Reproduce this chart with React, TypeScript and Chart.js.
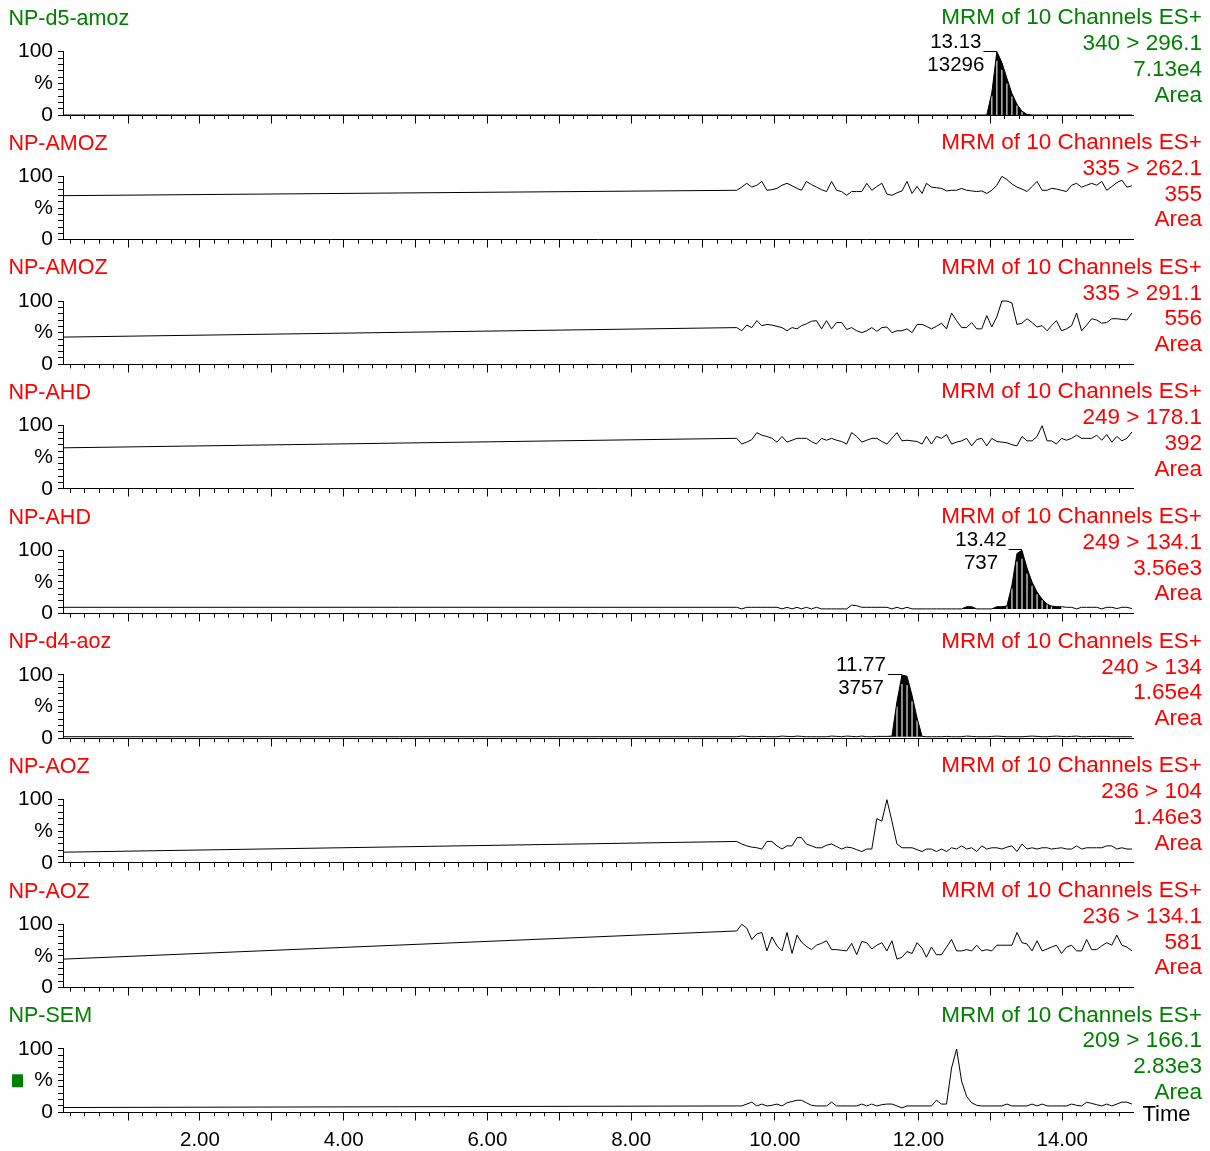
import React, { useEffect, useRef } from 'react';
import { Chart, registerables } from 'chart.js';

Chart.register(...registerables);

const FONT = '"Liberation Sans", Arial, Helvetica, sans-serif';
Chart.defaults.font.family = FONT;
Chart.defaults.color = '#000';

// ---------- axes ----------
const X_MIN = 0.094;
const X_MAX = 14.985;
const X_LABEL_VALUES = [2, 4, 6, 8, 10, 12, 14];
const X_LABELS = ['2.00', '4.00', '6.00', '8.00', '10.00', '12.00', '14.00'];
const X_MAJOR_TICKS = [1, 2, 3, 4, 5, 6, 7, 8, 9, 10, 11, 12, 13, 14];
const X_MINOR_TICKS = Array.from({ length: 74 }, (_, i) => +(0.2 * (i + 1)).toFixed(1));
const Y_TICK_VALUES = [0, 10, 20, 30, 40, 50, 60, 70, 80, 90, 100];
const Y_LABEL_VALUES = [0, 50, 100];
const Y_LABELS = ['0', '%', '100'];

// ---------- panel texts ----------
const TITLES = ['NP-d5-amoz', 'NP-AMOZ', 'NP-AMOZ', 'NP-AHD', 'NP-AHD', 'NP-d4-aoz', 'NP-AOZ', 'NP-AOZ', 'NP-SEM'];
const GREEN = '#008000';
const RED = '#ff0000';
const TITLE_COLORS = [GREEN, RED, RED, RED, RED, RED, RED, RED, GREEN];
const SCAN_LABEL = 'MRM of 10 Channels ES+';
const TRANSITIONS = ['340 > 296.1', '335 > 262.1', '335 > 291.1', '249 > 178.1', '249 > 134.1', '240 > 134', '236 > 104', '236 > 134.1', '209 > 166.1'];
const INTENSITIES = ['7.13e4', '355', '556', '392', '3.56e3', '1.65e4', '1.46e3', '581', '2.83e3'];
const INTENSITY_MODE = 'Area';
const TIME_LABEL = 'Time';

// ---------- data (retention time, min) ----------
const TIMES = [0.094,
  9.47, 9.54, 9.61, 9.68, 9.75, 9.82, 9.89, 9.96, 10.03, 10.10,
  10.17, 10.24, 10.31, 10.37, 10.44, 10.51, 10.58, 10.65, 10.72, 10.79,
  10.86, 10.93, 11.00, 11.07, 11.14, 11.21, 11.28, 11.35, 11.42, 11.49,
  11.56, 11.63, 11.70, 11.77, 11.84, 11.91, 11.98, 12.05, 12.11, 12.18,
  12.25, 12.32, 12.39, 12.46, 12.53, 12.60, 12.67, 12.74, 12.81, 12.88,
  12.95, 13.02, 13.09, 13.16, 13.23, 13.30, 13.37, 13.44, 13.51, 13.58,
  13.65, 13.72, 13.79, 13.85, 13.92, 13.99, 14.06, 14.13, 14.20, 14.27,
  14.34, 14.41, 14.48, 14.55, 14.62, 14.69, 14.76, 14.83, 14.90, 14.97];

const S1 = [0,
  0, 0, 0, 0, 0, 0, 0, 0, 0, 0,
  0, 0, 0, 0, 0, 0, 0, 0, 0, 0,
  0, 0, 0, 0, 0, 0, 0, 0, 0, 0,
  0, 0, 0, 0, 0, 0, 0, 0, 0, 0,
  0, 0, 0, 0, 0, 0, 0, 0, 0, 0,
  0, 35, 100, 83, 58, 34, 17, 6, 1, 0,
  0, 0, 0, 0, 0, 0, 0, 0, 0, 0,
  0, 0, 0, 0, 0, 0, 0, 0, 0, 0];

const S2 = [69.5,
  78, 83, 89, 83, 86, 92, 78, 79, 81, 86,
  89, 85, 81, 78, 92, 87, 83, 79, 76, 92,
  78, 76, 70, 76, 76, 76, 89, 78, 84, 89,
  72, 70, 74, 77, 92, 73, 84, 73, 89, 83,
  82, 81, 77, 78, 78, 81, 78, 77, 76, 77,
  73, 78, 86, 100, 95, 88, 83, 80, 76, 84,
  92, 78, 78, 81, 80, 78, 76, 86, 89, 83,
  86, 89, 86, 92, 78, 84, 90, 94, 83, 85];

const S3 = [43,
  58, 53, 62, 58, 69, 61, 63, 62, 60, 58,
  53, 58, 56, 61, 64, 68, 69, 56, 69, 56,
  66, 66, 55, 58, 53, 50, 53, 58, 52, 58,
  59, 50, 53, 53, 56, 50, 63, 63, 60, 56,
  60, 65, 56, 81, 69, 58, 58, 66, 56, 56,
  77, 59, 75, 100, 100, 97, 63, 65, 72, 66,
  59, 61, 53, 61, 69, 53, 56, 61, 81, 53,
  62, 72, 70, 65, 66, 72, 72, 71, 70, 81];

const S4 = [65,
  80, 71, 74, 78, 89, 85, 83, 80, 74, 83,
  74, 77, 80, 80, 80, 75, 71, 80, 77, 80,
  77, 75, 71, 89, 83, 74, 77, 80, 80, 75,
  71, 80, 89, 76, 77, 76, 75, 71, 83, 71,
  83, 80, 86, 71, 74, 76, 80, 68, 78, 80,
  68, 80, 75, 74, 73, 70, 68, 83, 76, 76,
  83, 100, 76, 76, 71, 80, 77, 80, 85, 80,
  80, 80, 85, 77, 86, 74, 83, 76, 80, 90];

const S5 = [10,
  10, 7.5, 10, 10, 10, 10, 10, 10, 10, 7.5,
  10, 7.5, 10, 7.5, 10, 7.5, 10, 7.5, 7.5, 7.5,
  7.5, 7.5, 7.5, 13.5, 12.5, 10, 10, 10, 10, 10,
  10, 7.5, 10, 7.5, 10, 7.5, 7.5, 7.5, 7.5, 7.5,
  7.5, 7.5, 7.5, 7.5, 7.5, 7.5, 11, 11, 7.5, 7.5,
  7.5, 7.5, 11, 11, 12, 45, 95, 100, 72, 50,
  34, 23, 15, 12, 11, 11, 10, 10, 7.5, 10,
  10, 10, 10, 7.5, 10, 10, 8, 10, 10, 8];

const S6 = [2.5,
  2.5, 3.5, 3, 2.5, 2.5, 3, 2.5, 2.5, 2.5, 3.5,
  3, 2.5, 3.5, 3, 2.5, 2.5, 2.5, 2.5, 2.5, 3.5,
  3, 2.5, 3.5, 3, 2.5, 3.5, 2.5, 2.5, 3, 3,
  3, 3.5, 58, 100, 98, 68, 32, 3, 2.5, 2.5,
  2.5, 2.5, 3, 2.5, 2.5, 2.5, 3.5, 3, 2.5, 2.5,
  2.5, 3, 3.5, 3, 2.5, 2.5, 2.5, 2.5, 3, 3.5,
  3, 2.5, 2.5, 3, 3.5, 3, 2.5, 3, 3.5, 2.5,
  2.5, 3, 3, 3, 3, 2.5, 2.5, 2.5, 2.5, 2.5];

const S7 = [17,
  34, 30, 27, 25, 24, 22, 34, 34, 27, 22,
  27, 27, 40, 40, 30, 27, 24, 24, 28, 30,
  26, 22, 25, 24, 21, 18, 22, 22, 70, 66,
  100, 66, 30, 24, 24, 24, 21, 18, 22, 22,
  18, 22, 18, 24, 22, 27, 22, 24, 18, 27,
  22, 24, 24, 22, 25, 27, 18, 30, 22, 24,
  22, 24, 24, 22, 23, 24, 22, 22, 27, 22,
  24, 24, 24, 24, 27, 27, 22, 24, 22, 22];

const S8 = [45,
  89.5, 100, 94, 76, 85, 87, 58, 80, 66, 58,
  87, 54, 83, 72, 65, 60, 67, 70, 74, 60,
  60, 59, 58, 70, 52, 73, 71, 61, 67, 71,
  58, 74, 45, 48, 57, 54, 71, 62, 48, 64,
  52, 52, 64, 76, 58, 58, 60, 58, 67, 58,
  60, 58, 67, 67, 67, 67, 87, 71, 69, 58,
  74, 58, 61, 64, 67, 54, 64, 67, 58, 58,
  76, 60, 60, 66, 71, 67, 83, 67, 64, 58];

const S9 = [7.5,
  10, 10, 13, 16, 10, 13, 10, 11, 13, 10,
  15, 17, 19, 19, 15, 11, 10, 10, 10, 16,
  10, 10, 10, 10, 10, 13, 10, 13, 10, 12,
  13, 13, 10, 7, 10, 10, 10, 10, 10, 10,
  19, 13, 13, 70, 100, 49, 25, 15, 11, 10,
  10, 10, 10, 10, 13, 10, 10, 10, 10, 13,
  10, 13, 10, 10, 10, 10, 10, 13, 11, 10,
  16, 14, 12, 10, 13, 10, 13, 16, 16, 13];

const SERIES = [S1, S2, S3, S4, S5, S6, S7, S8, S9];

// integrated peak regions
const FILL_PANEL = [0, 4, 4, 5];
const FILL_FROM = [12.95, 12.60, 13.02, 11.56];
const FILL_TO = [13.58, 12.81, 13.99, 12.05];
const FILL_BASE = [0, 7.5, 7.5, 2.5];

// peak labels
const PEAK_PANEL = [0, 4, 5];
const PEAK_RT = ['13.13', '13.42', '11.77'];
const PEAK_HEIGHT = ['13296', '737', '3757'];

// ---------- layout ----------
const PAGE_W = 1210;
const PAGE_H = 1151;
const PANEL_PITCH = 124.66;
const PANEL_H = 125;
const PLOT_TOP = 51.7;
const PLOT_BOTTOM = 115;
const PLOT_LEFT = 63;
const PLOT_RIGHT = 1133;

function buildDatasets(index: number) {
  const s = SERIES[index];
  const ds: any[] = [{
    type: 'line',
    data: TIMES.map((t, i) => ({ x: t, y: s[i] })),
    borderColor: '#000',
    borderWidth: 1,
    pointRadius: 0,
    fill: false,
    tension: 0,
    order: 0,
    clip: false,
  }];
  FILL_PANEL.forEach((p, f) => {
    if (p !== index) return;
    const idx = TIMES.map((_, i) => i).filter(
      (i) => TIMES[i] >= FILL_FROM[f] - 1e-6 && TIMES[i] <= FILL_TO[f] + 1e-6,
    );
    const base = FILL_BASE[f];
    ds.push({
      type: 'line',
      data: idx.map((i) => ({ x: TIMES[i], y: s[i] })),
      borderColor: 'rgba(0,0,0,0)',
      borderWidth: 0,
      backgroundColor: '#000',
      fill: { value: base },
      pointRadius: 0,
      tension: 0,
      order: 2,
    });
    const inner = idx.slice(1, -1).filter((i) => s[i] - base > 4);
    ds.push({
      type: 'bar',
      data: inner.map((i) => ({ x: TIMES[i], y: [base + 0.5, base + 0.85 * (s[i] - base)] })),
      backgroundColor: 'rgba(255,255,255,0.85)',
      borderWidth: 0,
      barThickness: 0.6,
      grouped: false,
      order: 1,
    });
  });
  return ds;
}

function Panel({ index }: { index: number }) {
  const ref = useRef<HTMLCanvasElement | null>(null);
  const isLast = index === TITLES.length - 1;
  const top = Math.round(index * PANEL_PITCH);
  const frac = index * PANEL_PITCH - top;
  const height = isLast ? PAGE_H - top : PANEL_H;

  useEffect(() => {
    const canvas = ref.current;
    if (!canvas) return;
    const yTop = PLOT_TOP + frac;
    const yBottom = PLOT_BOTTOM + frac;

    const textPlugin = {
      id: 'msText' + index,
      afterDraw(chart: any) {
        const { ctx, chartArea: a, scales } = chart;
        const xs = scales.x;
        const ys = scales.y;
        ctx.save();
        // major (whole-minute) ticks
        ctx.strokeStyle = '#000';
        ctx.lineWidth = 1;
        const by = Math.round(a.bottom - 0.5) + 0.5;
        ctx.beginPath();
        X_MAJOR_TICKS.forEach((v) => {
          const px = Math.round(xs.getPixelForValue(v) - 0.5) + 0.5;
          ctx.moveTo(px, by);
          ctx.lineTo(px, by + 8);
        });
        ctx.stroke();

        // title (left)
        ctx.textBaseline = 'alphabetic';
        ctx.textAlign = 'left';
        ctx.fillStyle = TITLE_COLORS[index];
        ctx.font = `21.5px ${FONT}`;
        ctx.fillText(TITLES[index], 8.5, a.top - 26.7);

        // channel info (right)
        ctx.textAlign = 'right';
        ctx.font = `22.5px ${FONT}`;
        [SCAN_LABEL, TRANSITIONS[index], INTENSITIES[index], INTENSITY_MODE].forEach((t, j) => {
          ctx.fillText(t, 1202, a.top - 27.3 + 25.8 * j);
        });

        // peak annotation
        const p = PEAK_PANEL.indexOf(index);
        if (p >= 0) {
          const s = SERIES[index];
          let mi = 0;
          s.forEach((v, i) => { if (v > s[mi]) mi = i; });
          const ax = xs.getPixelForValue(TIMES[mi]);
          const ay = ys.getPixelForValue(s[mi]);
          const cx = ax - 41;
          ctx.fillStyle = '#000';
          ctx.textAlign = 'center';
          ctx.font = `20.5px ${FONT}`;
          ctx.fillText(PEAK_RT[p], cx, ay - 4);
          ctx.fillText(PEAK_HEIGHT[p], cx, ay + 19);
          const w = ctx.measureText(PEAK_RT[p]).width;
          const ly = Math.round(ay) - 0.5;
          ctx.beginPath();
          ctx.moveTo(cx + w / 2 + 2, ly);
          ctx.lineTo(ax, ly);
          ctx.stroke();
        }

        if (isLast) {
          ctx.fillStyle = '#000';
          ctx.textAlign = 'left';
          ctx.font = `22px ${FONT}`;
          ctx.fillText(TIME_LABEL, 1142.5, a.bottom + 8.7);
          ctx.fillStyle = GREEN;
          ctx.fillRect(12, a.bottom - 38, 11, 13);
        }
        ctx.restore();
      },
    };

    const chart = new Chart(canvas, {
      type: 'line',
      data: { datasets: buildDatasets(index) },
      options: {
        animation: false,
        responsive: false,
        events: [],
        layout: { padding: { left: 0, right: PAGE_W - PLOT_RIGHT, top: yTop, bottom: 0 } },
        plugins: {
          legend: { display: false },
          tooltip: { enabled: false },
          title: { display: false },
        },
        scales: {
          x: {
            type: 'linear',
            position: 'bottom',
            min: X_MIN,
            max: X_MAX,
            offset: false,
            afterFit: (s: any) => {
              s.height = height - yBottom;
              s.paddingLeft = 0;
              s.paddingRight = 0;
            },
            afterBuildTicks: (s: any) => {
              s.ticks = X_MINOR_TICKS.map((v) => ({ value: v }));
            },
            ticks: {
              display: isLast,
              autoSkip: false,
              maxRotation: 0,
              minRotation: 0,
              padding: 12,
              color: '#000',
              font: { size: 20.5, family: FONT },
              callback: (v: any) => {
                const k = X_LABEL_VALUES.findIndex((lv) => Math.abs(lv - v) < 1e-6);
                return k >= 0 ? X_LABELS[k] : '';
              },
            },
            grid: { drawOnChartArea: false, drawTicks: true, tickLength: 4, color: '#000', lineWidth: 1, offset: false },
            border: { display: true, color: '#000', width: 1 },
          },
          y: {
            type: 'linear',
            position: 'left',
            min: 0,
            max: 100,
            afterFit: (s: any) => {
              s.width = PLOT_LEFT;
              s.paddingTop = 0;
              s.paddingBottom = 0;
            },
            afterBuildTicks: (s: any) => {
              s.ticks = Y_TICK_VALUES.map((v) => ({ value: v }));
            },
            ticks: {
              autoSkip: false,
              padding: 5,
              color: '#000',
              font: { size: 21, family: FONT },
              callback: (v: any) => {
                const k = Y_LABEL_VALUES.indexOf(v);
                return k >= 0 ? Y_LABELS[k] : '';
              },
            },
            grid: { drawOnChartArea: false, drawTicks: true, tickLength: 5, color: '#000', lineWidth: 1 },
            border: { display: true, color: '#000', width: 1 },
          },
        },
      } as any,
      plugins: [textPlugin],
    } as any);
    return () => chart.destroy();
  }, [index]);

  return (
    <canvas
      ref={ref}
      width={PAGE_W}
      height={height}
      style={{ position: 'absolute', left: 0, top, width: PAGE_W, height, display: 'block' }}
    />
  );
}

export default function App() {
  return (
    <div style={{ position: 'absolute', left: 0, top: 0, width: PAGE_W, height: PAGE_H, background: '#fff', overflow: 'hidden' }}>
      {TITLES.map((_, i) => (
        <Panel key={i} index={i} />
      ))}
    </div>
  );
}
